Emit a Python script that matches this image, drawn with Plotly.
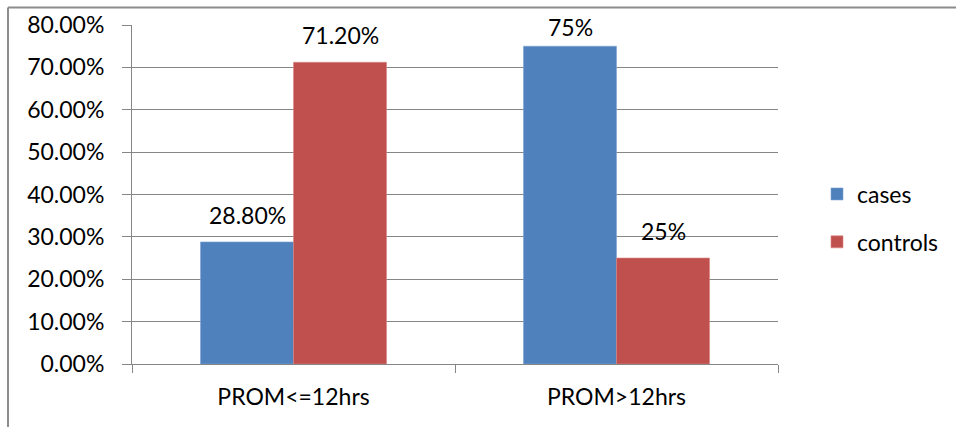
import plotly.graph_objects as go

categories = ["PROM<=12hrs", "PROM>12hrs"]
cases = [28.8, 75]
controls = [71.2, 25]
case_labels = ["28.80%", "75%"]
control_labels = ["71.20%", "25%"]
y_ticks = [0, 10, 20, 30, 40, 50, 60, 70, 80]
y_tick_text = [f"{v:.2f}%" for v in y_ticks]

FONT = "Lato"
GRID = "#868686"
W, H = 956, 427
ML, MR, MT, MB = 132, 178, 25, 63
PW, PH = W - ML - MR, H - MT - MB
Y_MAX = 80

fig = go.Figure()
fig.add_trace(go.Bar(name="cases", x=categories, y=cases,
                     marker=dict(color="#4F81BD", line=dict(color="#7FA3D3", width=0.6)),
                     legendgroup="a"))
fig.add_trace(go.Bar(name="controls", x=categories, y=controls,
                     marker=dict(color="#C0504D", line=dict(color="#D98582", width=0.6)),
                     legendgroup="b"))

# value labels above each bar; a label that would rise past the top of the
# plot is pulled down so it stays inside the chart area
for i, cat in enumerate(categories):
    for val, txt, shift in ((cases[i], case_labels[i], -46.5), (controls[i], control_labels[i], 46.5)):
        room = (Y_MAX - val) / Y_MAX * PH
        lift = min(11, room - 18)
        fig.add_annotation(x=cat, y=val, text=txt, showarrow=False, xshift=shift,
                           yanchor="bottom", yshift=lift,
                           font=dict(family=FONT, size=23, color="#000000"))

# outer chart border (left and top edges)
bx = (8 - ML) / PW
by = 1 + (MT - 7.5) / PH
fig.add_shape(type="line", xref="paper", yref="paper", x0=bx, x1=1 + (MR + 5) / PW,
              y0=by, y1=by, line=dict(color="#8C8C8C", width=2))
fig.add_shape(type="line", xref="paper", yref="paper", x0=bx, x1=bx,
              y0=by, y1=-(MB + 5) / PH, line=dict(color="#8C8C8C", width=2))

fig.update_layout(
    width=W, height=H,
    margin=dict(l=ML, r=MR, t=MT, b=MB, pad=0, autoexpand=False),
    paper_bgcolor="white", plot_bgcolor="white",
    barmode="group", bargap=0.424, bargroupgap=0,
    font=dict(family=FONT, size=23, color="#000000"),
    legend=dict(x=(817 - ML) / PW, y=1 - (218 - MT) / PH, xanchor="left", yanchor="middle",
                font=dict(family=FONT, size=23), traceorder="grouped",
                tracegroupgap=15, bgcolor="rgba(0,0,0,0)", itemwidth=30),
    xaxis=dict(type="category", tickson="boundaries", ticks="outside", ticklen=8,
               tickcolor=GRID, showline=True, linecolor=GRID, linewidth=1,
               showgrid=False, tickfont=dict(family=FONT, size=23), ticklabelstandoff=12),
    yaxis=dict(range=[0, Y_MAX], tickvals=y_ticks, ticktext=y_tick_text,
               ticks="outside", ticklen=9, tickcolor=GRID, showline=True,
               linecolor=GRID, linewidth=1, showgrid=True, gridcolor=GRID,
               gridwidth=1, zeroline=False, tickfont=dict(family=FONT, size=23),
               ticklabelstandoff=13),
)

fig.write_html("out.html")
